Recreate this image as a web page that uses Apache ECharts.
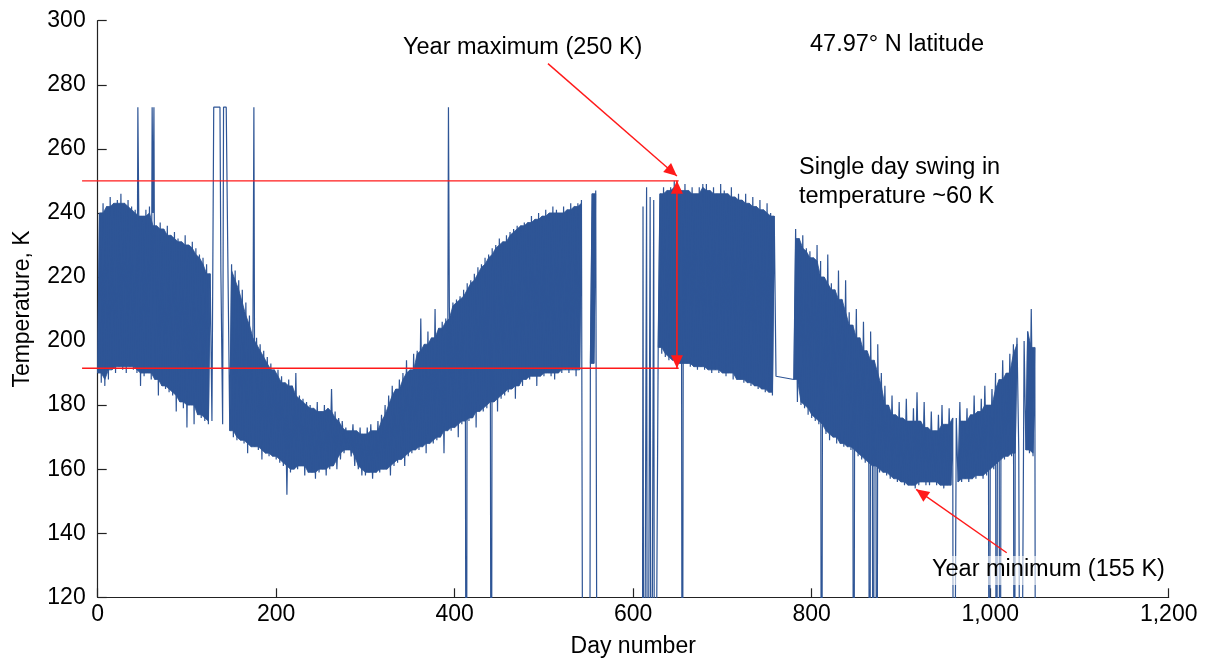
<!DOCTYPE html>
<html><head><meta charset="utf-8">
<script src="https://cdn.jsdelivr.net/npm/echarts@6/dist/echarts.min.js"></script>
<style>html,body{margin:0;padding:0;background:#fff}#c{width:1211px;height:664px}</style>
</head><body><div id="c"></div>
<script>
// ---- data ----
const firstDay = 0;
const stepDays = 4;              // one low/high pair every 4 days
// night-time lows at day firstDay + i*stepDays
const dailyLow = [
 190,187,186,188,191,190,192,191,190,192,
 191,190,186,189,190,188,188,183,186,185,
 184,183,178,181,179,173,180,174,177,176,
 175,174,175,null,null,174,null,172,170,169,
 169,168,165,167,167,166,163,165,164,164,
 163,162,161,152,159,160,160,161,158,159,
 159,157,159,160,158,160,161,160,163,165,
 166,164,161,160,158,158,159,157,159,159,
 160,160,158,161,162,163,161,164,165,166,
 166,167,165,168,168,169,170,165,172,172,
 173,170,174,175,175,176,173,178,178,179,
 180,181,178,182,183,184,185,182,186,186,
 188,188,189,186,189,189,190,189,188,190,
 190,191,190,191,189,191,null,null,192,193,
 null,null,null,null,null,null,null,null,null,null,
 null,null,null,null,null,null,null,198,196,195,
 194,194,193,193,192,193,192,192,191,192,
 191,191,190,191,190,190,189,190,188,188,
 188,187,187,186,186,185,185,184,184,183,
 189,null,null,null,null,188,181,180,179,177,
 176,175,174,172,171,169,170,168,168,167,
 167,166,165,164,163,162,161,161,160,159,
 159,158,157,157,156,156,155,155,155,154,
 155,156,155,155,156,155,155,154,155,155,
 null,156,156,157,156,157,157,158,157,158,
 159,160,161,162,163,164,164,165,166,null,
 166,165,164
];
// day-time highs at day firstDay + i*stepDays + stepDays/2
const dailyHigh = [
 240,243,242,245,243,244,246,243,244,242,
 241,240,239,241,242,240,236,237,235,236,
 233,234,232,231,233,230,231,229,227,226,
 224,221,null,null,222,null,221,224,222,219,
 216,212,208,205,201,199,197,195,193,191,
 191,189,187,188,186,190,183,182,181,180,
 179,181,178,180,179,185,178,176,175,173,
 172,174,172,173,171,173,174,172,175,177,
 180,183,186,185,188,190,194,191,196,197,
 207,199,203,201,210,204,206,207,211,212,
 213,214,216,218,219,221,223,224,226,227,
 229,230,232,231,233,234,235,236,236,237,
 237,239,238,240,239,241,240,242,241,240,
 242,241,243,242,243,244,null,null,246,247,
 null,null,null,null,null,null,null,null,null,null,
 null,null,null,null,null,null,null,246,248,247,
 248,250,248,247,249,247,248,246,248,249,
 249,247,248,246,249,247,246,248,245,246,
 244,246,243,245,242,244,241,243,240,239,
 null,null,null,null,null,235,232,233,229,228,
 226,230,225,220,227,218,216,222,213,219,
 209,205,210,201,206,197,203,194,199,190,
 186,180,183,177,181,176,182,175,179,184,
 175,181,173,178,172,177,180,174,179,176,
 176,181,175,179,177,183,178,182,186,180,
 185,190,188,194,190,196,199,201,null,200,
 203,210,198
];
// days where the sensor reads its ceiling value
const saturatedValue = 273;
const saturatedRanges = [[45,45],[61,61],[63,63],[130,137],[141,144],[175,175],[393,393]];
// days with missing data (recorded as 0 K, off the axis)
const dropoutValue = 0;
const dropoutRanges = [[413,413],[441,441],[544,551],[560,610],[612,614],[616,618],[620,622],[624,626],
 [655,655],[811,811],[847,847],[865,865],[869,869],[873,873],[959,961],[999,999],[1007,1007],
 [1011,1011],[1027,1027],[1034,1036],[1051,1051]];
// single valid readings inside the long gap
const isolatedReadings = [[611,242],[615,248],[619,245],[623,244]];

const xMin = 0, xMax = 1200, xStep = 200;
const yMin = 120, yMax = 300, yStep = 20;
const yearMaximum = 250, swingBottom = 191.5, yearMinimum = 155;
const swingDay = 649;

// ---- build line points ----
const dayOf = i => firstDay + i * stepDays;
const pts = [];
dailyLow.forEach((lo, i) => {
  const d = dayOf(i);
  if (lo != null) pts.push([d, lo]);
  const hi = dailyHigh[i];
  if (hi != null) pts.push([d + stepDays / 2, hi]);
});
saturatedRanges.forEach(([a, b]) => { pts.push([a, saturatedValue]); if (b !== a) pts.push([b, saturatedValue]); });
dropoutRanges.forEach(([a, b]) => { pts.push([a, dropoutValue]); if (b !== a) pts.push([b, dropoutValue]); });
isolatedReadings.forEach(p => pts.push(p.slice()));
pts.sort((p, q) => p[0] - q[0]);

// ---- dense body of the daily swing: runs of complete low/high pairs ----
const runs = [];
let cur = null;
dailyLow.forEach((lo, i) => {
  if (lo != null && dailyHigh[i] != null) { if (!cur) { cur = []; runs.push(cur); } cur.push(i); }
  else cur = null;
});
const bodies = runs.map(run => {
  const inRun = j => run.indexOf(j) >= 0;
  const top = run.map(i => {
    const vals = [i - 1, i, i + 1].filter(inRun).map(j => dailyHigh[j]);
    return [dayOf(i) + stepDays / 2, Math.min.apply(null, vals)];
  });
  const bottom = run.map(i => {
    const vals = [i - 1, i, i + 1].filter(inRun).map(j => dailyLow[j]);
    return [dayOf(i), Math.max.apply(null, vals)];
  }).reverse();
  return top.concat(bottom);
});

const FONT = '"Liberation Sans", Arial, Helvetica, sans-serif';
const BLUE = '#2E5596';
const RED = '#FF1A1A';

const chart = echarts.init(document.getElementById('c'), null, {renderer: 'canvas'});
chart.setOption({
  animation: false,
  backgroundColor: '#fff',
  grid: {left: 97.7, right: 42.3, top: 20.7, bottom: 66.7, containLabel: false},
  xAxis: {
    type: 'value', min: xMin, max: xMax, interval: xStep,
    name: 'Day number', nameLocation: 'middle', nameGap: 38,
    nameTextStyle: {fontSize: 23, color: '#000', fontFamily: FONT},
    axisLine: {show: true, onZero: false, lineStyle: {color: '#222', width: 1.2}},
    axisTick: {show: true, inside: true, length: 9, lineStyle: {color: '#222', width: 1.2}},
    axisLabel: {fontSize: 23, color: '#000', fontFamily: FONT, margin: 6,
      formatter: v => String(v).replace(/\B(?=(\d{3})+(?!\d))/g, ',')},
    splitLine: {show: false}
  },
  yAxis: {
    type: 'value', min: yMin, max: yMax, interval: yStep,
    name: 'Temperature, K', nameLocation: 'middle', nameGap: 64, nameRotate: 90,
    nameTextStyle: {fontSize: 23, color: '#000', fontFamily: FONT},
    axisLine: {show: true, onZero: false, lineStyle: {color: '#222', width: 1.2}},
    axisTick: {show: true, inside: true, length: 9, lineStyle: {color: '#222', width: 1.2}},
    axisLabel: {fontSize: 23, color: '#000', fontFamily: FONT, margin: 12},
    splitLine: {show: false}
  },
  series: [{
    type: 'custom', data: [0], silent: true, clip: true, z: 1,
    renderItem: (params, api) => ({
      type: 'group',
      children: bodies.map(poly => ({
        type: 'polygon', shape: {points: poly.map(p => api.coord(p))},
        style: {fill: BLUE, stroke: BLUE, lineWidth: 0.8}
      }))
    })
  }, {
    type: 'line', data: pts, showSymbol: false, symbol: 'none', clip: true,
    sampling: null, lineStyle: {color: BLUE, width: 1.2}, z: 2
  }]
});

// ---- annotations ----
const P = (x, y) => chart.convertToPixel({xAxisIndex: 0, yAxisIndex: 0}, [x, y]);
function head(tip, from, len, wid) {
  const dx = tip[0] - from[0], dy = tip[1] - from[1];
  const L = Math.hypot(dx, dy), ux = dx / L, uy = dy / L;
  const bx = tip[0] - ux * len, by = tip[1] - uy * len;
  return [[tip[0], tip[1]], [bx - uy * wid / 2, by + ux * wid / 2], [bx + uy * wid / 2, by - ux * wid / 2]];
}
const g = [];
const lineEl = (a, b, w) => ({type: 'line', shape: {x1: a[0], y1: a[1], x2: b[0], y2: b[1]},
  style: {stroke: RED, lineWidth: w || 1.4}, z: 100});
const headEl = (tip, from) => ({type: 'polygon', shape: {points: head(tip, from, 13, 12)},
  style: {fill: RED}, z: 101});
// horizontal guides
g.push(lineEl(P(-17.5, yearMaximum), P(651, yearMaximum)));
g.push(lineEl(P(-17.5, swingBottom), P(651, swingBottom)));
// vertical double arrow
const vTop = P(swingDay, yearMaximum), vBot = P(swingDay, swingBottom);
g.push(lineEl(vTop, vBot, 1.6));
g.push(headEl(vTop, vBot));
g.push(headEl(vBot, vTop));
// year maximum arrow
const maxFrom = P(504.5, 286.6), maxTip = P(swingDay, 251.5);
g.push(lineEl(maxFrom, maxTip));
g.push(headEl(maxTip, maxFrom));
// year minimum arrow
const minFrom = P(1018.5, 133.9), minTip = P(917, 153.7);
g.push(lineEl(minFrom, minTip));
g.push(headEl(minTip, minFrom));
// texts
const txt = (t, x, y) => ({type: 'text', x: x, y: y, z: 110,
  style: {text: t, font: '23.5px ' + FONT, fill: '#000', align: 'left', verticalAlign: 'middle',
    textAlign: 'left', textVerticalAlign: 'middle'}});
g.push(txt('Year maximum (250 K)', 403, 48));
g.push(txt('47.97° N latitude', 810, 45));
g.push(txt('Single day swing in', 799, 168));
g.push(txt('temperature ~60 K', 799, 197));
g.push({type: 'rect', shape: {x: 928, y: 556, width: 246, height: 29},
  style: {fill: 'rgba(255,255,255,0.6)'}, z: 105});
g.push(txt('Year minimum (155 K)', 932, 570));
chart.setOption({graphic: g});
</script></body></html>
